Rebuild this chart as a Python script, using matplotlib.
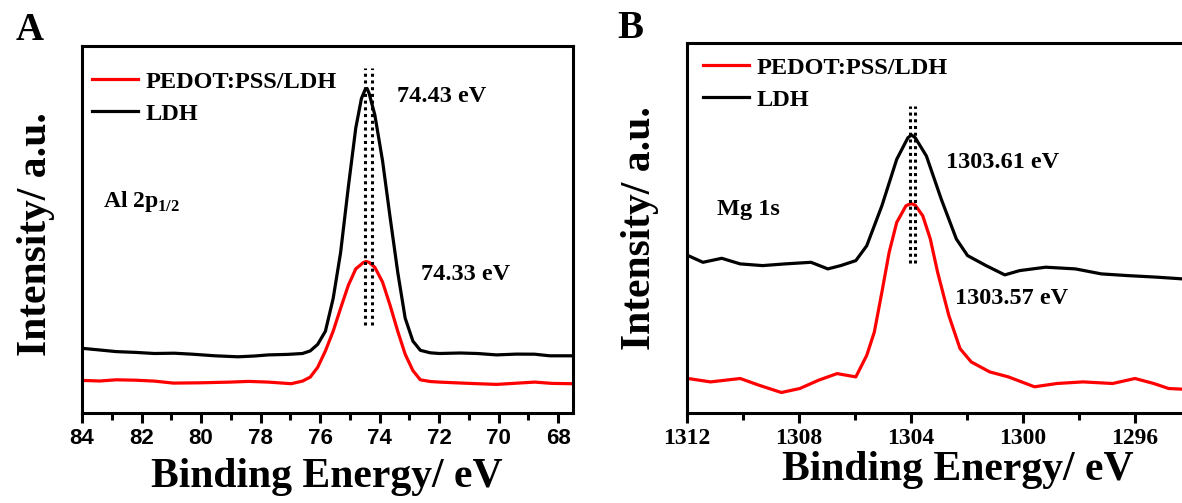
import matplotlib
matplotlib.use("Agg")
import matplotlib.pyplot as plt
from matplotlib.ticker import MultipleLocator

plt.rcParams["mathtext.fontset"] = "custom"
plt.rcParams["mathtext.rm"] = "Liberation Serif:bold"
plt.rcParams["mathtext.bf"] = "Liberation Serif:bold"

# ---------------- data ----------------
# Panel A: Al 2p1/2
a_ldh_x = [84.0, 83.4, 82.85, 82.2, 81.57, 80.9, 80.29, 79.53, 78.76, 78.2, 77.74, 77.1,
           76.59, 76.33, 76.08, 75.82, 75.56, 75.31, 75.05, 74.80, 74.61, 74.48, 74.42,
           74.35, 74.16, 73.90, 73.65, 73.39, 73.14, 72.88, 72.63, 72.3, 71.99, 71.3,
           70.71, 70.07, 69.4, 68.79, 68.28, 67.58]
a_ldh_y = [64.7, 63.0, 61.4, 60.6, 59.5, 59.8, 58.8, 57.2, 56.2, 57.0, 58.1, 58.6,
           59.5, 62.1, 68.6, 81.8, 114.5, 160.4, 226.0, 285.0, 314.5, 323.7, 324.5,
           319.5, 298.1, 252.2, 196.5, 140.8, 94.9, 71.9, 62.7, 60.2, 59.5, 60.0,
           59.5, 58.1, 58.9, 58.8, 57.2, 57.2]
a_pl_x = [84.0, 83.4, 82.85, 82.2, 81.57, 80.93, 80.0, 79.02, 78.4, 77.74, 76.97, 76.59,
          76.33, 76.08, 75.82, 75.56, 75.31, 75.05, 74.80, 74.54, 74.45, 74.35, 74.16,
          73.90, 73.65, 73.39, 73.14, 72.88, 72.63, 72.3, 71.99, 71.3, 70.71, 70.07,
          69.4, 68.79, 68.2, 67.58]
a_pl_y = [32.6, 32.0, 33.2, 32.8, 31.9, 29.9, 30.2, 30.9, 31.6, 30.9, 29.3, 31.9,
          35.9, 45.7, 62.1, 81.8, 104.7, 127.7, 144.1, 150.6, 151.5, 150.6, 145.7,
          130.9, 108.0, 81.8, 58.8, 42.4, 33.2, 31.5, 30.9, 30.0, 29.3, 28.6,
          29.8, 30.9, 29.6, 29.3]
a_peak_labels = ["74.43 eV", "74.33 eV"]
a_guides = [74.49, 74.26]

# Panel B: Mg 1s
b_ldh_x = [1311.96, 1311.43, 1310.76, 1310.10, 1309.30, 1308.50, 1307.57, 1306.97, 1306.51,
           1305.97, 1305.58, 1305.04, 1304.51, 1304.11, 1303.98, 1303.85, 1303.45, 1302.92,
           1302.38, 1301.98, 1301.32, 1300.65, 1300.12, 1299.19, 1298.13, 1297.20, 1296.26,
           1295.20, 1294.30]
b_ldh_y = [157.4, 150.7, 154.7, 149.1, 147.4, 149.1, 150.7, 144.1, 147.4,
           152.4, 167.3, 207.2, 253.7, 275.3, 278.0, 275.3, 257.0, 213.9,
           174.0, 157.4, 147.4, 138.1, 142.4, 145.8, 144.1, 139.1, 137.4,
           135.8, 134.1]
b_pl_x = [1311.96, 1311.16, 1310.10, 1309.43, 1308.63, 1307.97, 1307.30, 1306.64, 1305.97,
          1305.58, 1305.31, 1305.04, 1304.78, 1304.51, 1304.18, 1304.0, 1303.85, 1303.58,
          1303.31, 1303.05, 1302.65, 1302.25, 1301.85, 1301.19, 1300.52, 1299.59, 1298.79,
          1297.86, 1296.80, 1296.00, 1295.33, 1294.80, 1294.30]
b_pl_y = [34.5, 31.1, 34.5, 27.8, 20.5, 24.5, 32.8, 39.4, 36.1,
          57.7, 80.9, 120.8, 160.7, 190.6, 207.2, 209.5, 207.9, 197.2,
          174.0, 140.8, 97.6, 64.4, 51.1, 41.1, 36.1, 26.2, 29.5,
          31.1, 29.5, 34.5, 29.5, 24.5, 23.8]
b_peak_labels = ["1303.61 eV", "1303.57 eV"]
b_guides = [1304.05, 1303.85]

series_names = ["PEDOT:PSS/LDH", "LDH"]
series_colors = ["#ff0000", "#000000"]

# ---------------- figure ----------------
W, H = 1182, 503
fig = plt.figure(figsize=(W / 100, H / 100), dpi=100)
fig.patch.set_facecolor("white")

SERIF = "Liberation Serif"
SANS = "Liberation Sans"
ANN = 17.5


def px_axes(l, t, r, b):
    return fig.add_axes([l / W, 1 - b / H, (r - l) / W, (b - t) / H])


def style(ax, tickfont, tsize, major, minor):
    for s in ax.spines.values():
        s.set_linewidth(2.2)
    ax.set_yticks([])
    ax.xaxis.set_major_locator(MultipleLocator(major))
    ax.xaxis.set_minor_locator(MultipleLocator(minor))
    ax.tick_params(axis="x", which="major", direction="out", length=7, width=2.2,
                   pad=4)
    ax.tick_params(axis="x", which="minor", direction="out", length=5, width=2.2)
    for lab in ax.get_xticklabels():
        lab.set_fontfamily(tickfont)
        lab.set_fontweight("bold")
        lab.set_fontsize(tsize)


def ftext(x, y, s, size=ANN, **kw):
    fig.text(x / W, 1 - y / H, s, fontfamily=SERIF, fontweight="bold",
             fontsize=size, ha=kw.pop("ha", "center"), va="center", **kw)


legend_kw = dict(loc="upper left", frameon=False, handlelength=1.9, handletextpad=0.3,
                 labelspacing=0.4, borderaxespad=0.0,
                 prop={"family": SERIF, "weight": "bold", "size": ANN})

# ---- Panel A ----
axA = px_axes(82, 46, 573, 413)
axA.plot(a_pl_x, a_pl_y, color=series_colors[0], lw=2.3, label=series_names[0])
axA.plot(a_ldh_x, a_ldh_y, color=series_colors[1], lw=2.3, label=series_names[1])
axA.set_xlim(84, 67.5)
axA.set_ylim(0, 367)
for g in a_guides:
    axA.plot([g, g], [88, 345], color="black", ls=(0, (1, 1.2)), lw=2.2)
style(axA, SANS, 16, 2, 1)
ftext(442, 97, a_peak_labels[0])
ftext(466, 275, a_peak_labels[1])
ftext(103, 202, r"Al 2p$_{1/2}$", size=17, ha="left")
axA.legend(bbox_to_anchor=(0.0, 0.959), **legend_kw)
ftext(36, 234, "Intensity/ a.u.", size=30, rotation=90)
ftext(327, 477, "Binding Energy/ eV", size=30)
ftext(30, 31, "A", size=28)

# ---- Panel B ----
axB = px_axes(687, 43, 1200, 413)
axB.plot(b_pl_x, b_pl_y, color=series_colors[0], lw=2.3, label=series_names[0])
axB.plot(b_ldh_x, b_ldh_y, color=series_colors[1], lw=2.3, label=series_names[1])
axB.set_xlim(1312, 1312 - 513 / 28)
axB.set_ylim(0, 370)
for g in b_guides:
    axB.plot([g, g], [150, 307], color="black", ls=(0, (1, 1.2)), lw=2.2)
style(axB, SERIF, 17, 4, 2)
ftext(1003, 163, b_peak_labels[0])
ftext(1012, 299, b_peak_labels[1])
ftext(748, 209, "Mg 1s")
axB.legend(bbox_to_anchor=(0.012, 0.989), **legend_kw)
ftext(640, 228, "Intensity/ a.u.", size=30, rotation=90)
ftext(958, 470, "Binding Energy/ eV", size=30)
ftext(630, 28, "B", size=28)

fig.savefig("out.png", dpi=100, facecolor="white")
